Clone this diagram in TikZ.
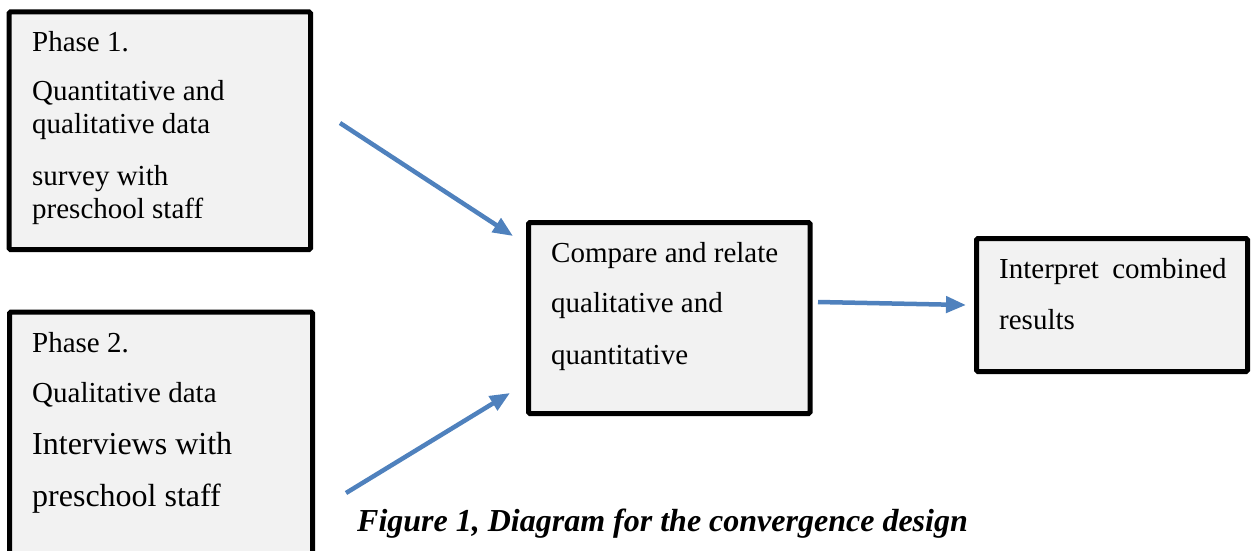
\documentclass[tikz,border=0pt]{standalone}
\usepackage{fontspec}
\setmainfont{Liberation Serif}
\usetikzlibrary{arrows.meta,calc}
\definecolor{flowblue}{RGB}{79,129,189}
\definecolor{boxgray}{RGB}{242,242,242}
\tikzset{
  box/.style={draw=black, fill=boxgray, line width=5pt, rounded corners=1.5pt,
    outer sep=0pt, inner sep=0pt, anchor=north west},
  flow/.style={draw=flowblue, line width=4.5pt, -{Triangle[length=20pt,width=16pt]}},
  txt/.style={anchor=base west, inner sep=0pt, font=\fontsize{29}{34}\selectfont},
  bigtxt/.style={txt, font=\fontsize{32}{38}\selectfont},
}

\begin{document}
\begin{tikzpicture}[x=1pt, y=-1pt]
    \useasboundingbox (0,0) rectangle (1255,551);
    % boxes
    \node[box, minimum width=301.5pt, minimum height=237.5pt] (phaseone) at (9,12) {};
    \node[box, minimum width=303pt, minimum height=268pt] (phasetwo) at (9.5,312) {};
    \node[box, minimum width=281.5pt, minimum height=191pt] (compare) at (528.5,222.5) {};
    \node[box, minimum width=271pt, minimum height=133pt] (interpret) at (976.5,238.5) {};
    % box texts
    \foreach \n/\y/\t in {a/52/Phase 1., b/100/Quantitative and, c/133/qualitative data,
        d/185/survey with, e/218/preschool staff}
        \node[txt] (one\n) at (32,\y) {\t};
    \node[txt] (twoa) at (32,352) {Phase 2.};
    \node[txt] (twob) at (32,402) {Qualitative data};
    \node[bigtxt] (twoc) at (32,454) {Interviews with};
    \node[bigtxt] (twod) at (32,506) {preschool staff};
    \foreach \n/\y/\t in {a/262/Compare and relate, b/312/qualitative and, c/364/quantitative}
        \node[txt] (cmp\n) at (551,\y) {\t};
    \node[txt] (inta) at (999,278) {Interpret\hspace{6pt} combined};
    \node[txt] (intb) at (999,329) {results};
    % arrows
    \draw[flow] ([shift={(29.5,111)}]phaseone.north east) -- ([shift={(-15.5,13.5)}]compare.north west);
    \draw[flow] ([shift={(33.5,181)}]phasetwo.north east) -- ([shift={(-18.5,-20.5)}]compare.south west);
    \draw[flow] ([shift={(8,-16)}]compare.east) -- ([shift={(-10.5,0)}]interpret.west);
    % caption
    \node[txt, font=\fontsize{32}{38}\selectfont\bfseries\itshape] (caption) at (357,531)
        {Figure 1, Diagram for the convergence design};
\end{tikzpicture}
\end{document}
